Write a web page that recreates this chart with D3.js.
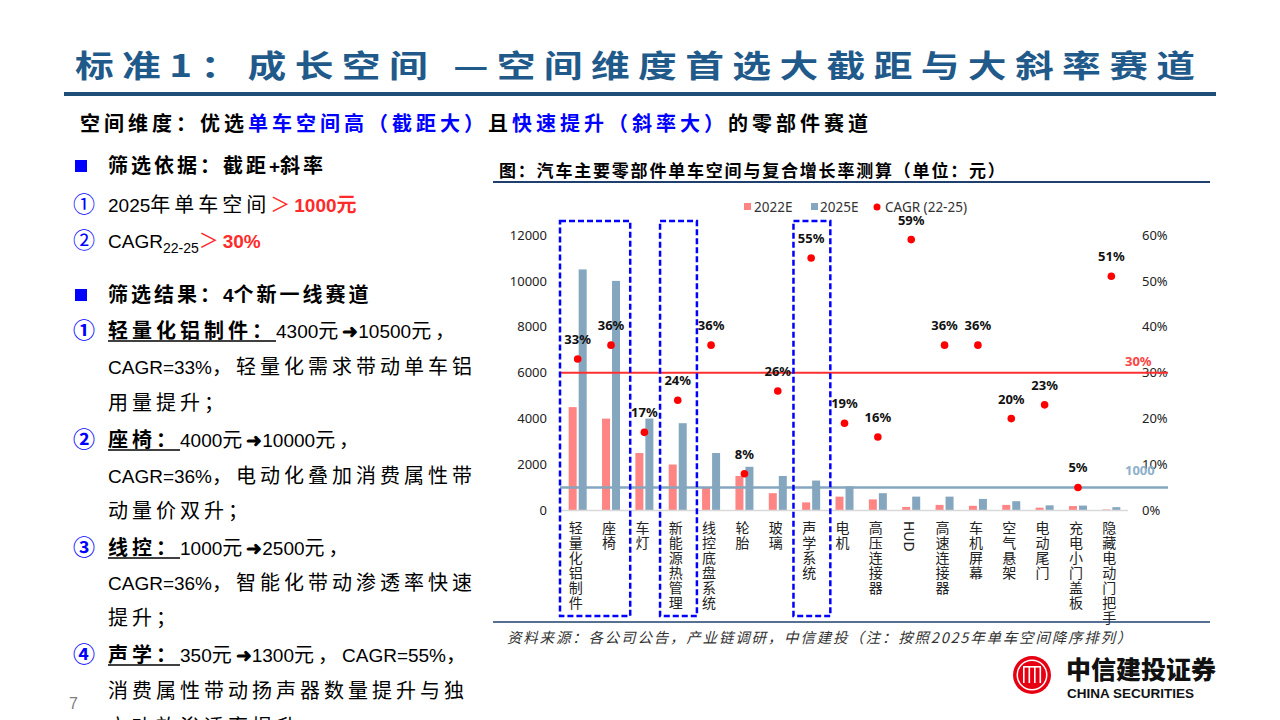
<!DOCTYPE html>
<html>
<head>
<meta charset="utf-8">
<script src="https://cdn.jsdelivr.net/npm/d3@7"></script>
<style>
  body { margin: 0; background: #fff; }
  svg { display: block; }
</style>
</head>
<body>
<div id="chart"></div>
<script>
// data
var categories = ['轻量化铝制件', '座椅', '车灯', '新能源热管理', '线控底盘系统', '轮胎', '玻璃', '声学系统', '电机',
  '高压连接器', 'HUD', '高速连接器', '车机屏幕', '空气悬架', '电动尾门', '充电小门盖板', '隐藏电动门把手'];
var space2022 = [4500, 4000, 2500, 2000, 1000, 1500, 750, 350, 600, 480, 150, 240, 200, 240, 120, 190, 40];
var space2025 = [10500, 10000, 4000, 3800, 2500, 1900, 1500, 1300, 1050, 750, 600, 600, 500, 400, 220, 210, 140];
var cagr = [0.33, 0.36, 0.17, 0.24, 0.36, 0.08, 0.26, 0.55, 0.19, 0.16, 0.59, 0.36, 0.36, 0.20, 0.23, 0.05, 0.51];
var seriesNames = ['2022E', '2025E'];
var leftTicks = [0, 2000, 4000, 6000, 8000, 10000, 12000];
var rightTicks = [0, 0.1, 0.2, 0.3, 0.4, 0.5, 0.6];
var highlightGroups = [['轻量化铝制件', '座椅'], ['新能源热管理'], ['声学系统']];
var spaceLine = 1000, cagrLine = 0.30;

var CJK = /[\u2460-\u24ff\u3000-\u9fff\uff00-\uffef]/;
var FONT = '"Liberation Sans", "Noto Sans CJK SC", sans-serif';
var CHARTFONT = '"Noto Sans", "Noto Sans CJK SC", sans-serif';

var svg = d3.select('#chart').append('svg')
    .attr('width', 1280)
    .attr('height', 720);

svg.append('rect').attr('width', 1280).attr('height', 720).attr('fill', '#fff');

// ---------- page title ----------
svg.append('text')
    .attr('transform', 'translate(75,77) scale(1.25,1)')
    .attr('font-family', '"Noto Sans CJK SC", sans-serif')
    .attr('font-weight', 700)
    .attr('font-size', 31)
    .attr('letter-spacing', 6.7)
    .attr('fill', '#1F5A8A')
    .text('标准1：成长空间 —空间维度首选大截距与大斜率赛道');

svg.append('line')
    .attr('x1', 64).attr('x2', 1216).attr('y1', 94).attr('y2', 94)
    .attr('stroke', '#1F4E79').attr('stroke-width', 4);

// rich text line made of segments, CJK runs get extra letter spacing
function rich(x, y, segs, base) {
  base = base || {};
  var size = base.size || 20, ls = base.ls == null ? 4 : base.ls;
  var latin = base.latin || 19;
  var t = svg.append('text')
      .attr('x', x).attr('y', y)
      .attr('font-family', base.family || FONT)
      .attr('font-size', size)
      .attr('fill', '#000');
  var shift = 0;
  segs.forEach(function(s) {
    var runs = s.t.match(/([\u2460-\u24ff\u3000-\u9fff\uff00-\uffef]+|[^\u2460-\u24ff\u3000-\u9fff\uff00-\uffef]+)/g);
    var nodes = [];
    runs.forEach(function(r, i) {
      var isC = CJK.test(r);
      var ts = t.append('tspan')
          .attr('fill', s.color || '#000')
          .attr('font-weight', s.bold ? 700 : 400)
          .attr('font-size', s.size || (isC ? size : latin))
          .attr('letter-spacing', isC ? ls : 0)
          .text(r);
      var want = s.sub || 0;
      if (i === 0 && want !== shift) { ts.attr('dy', want - shift); shift = want; }
      nodes.push(ts.node());
    });
    s._nodes = nodes;
  });
  segs.forEach(function(s) {
    if (!s.underline) return;
    var a = s._nodes[0], b = s._nodes[s._nodes.length - 1];
    var x1 = a.getStartPositionOfChar(0).x;
    var x2 = b.getEndPositionOfChar(b.getNumberOfChars() - 1).x;
    svg.append('line').attr('x1', x1).attr('x2', x2)
        .attr('y1', y + 3).attr('y2', y + 3)
        .attr('stroke', '#000').attr('stroke-width', 1.5);
  });
  return t;
}

// subtitle
rich(80, 131, [
  { t: '空间维度：优选', bold: true },
  { t: '单车空间高（截距大）', bold: true, color: '#0000FF' },
  { t: '且', bold: true },
  { t: '快速提升（斜率大）', bold: true, color: '#0000FF' },
  { t: '的零部件赛道', bold: true }
], { size: 20, ls: 4 });

// ---------- left panel ----------
function bullet(y) {
  svg.append('rect').attr('x', 75).attr('y', y - 6).attr('width', 12).attr('height', 12).attr('fill', '#0000FF');
}
function num(y, ch, bold) {
  svg.append('text').attr('x', 84).attr('y', y + 7)
      .attr('text-anchor', 'middle')
      .attr('font-family', '"Noto Sans CJK SC", sans-serif')
      .attr('font-size', 22).attr('font-weight', bold ? 700 : 400)
      .attr('fill', '#0000FF').text(ch);
}
var RED = '#FF2A2A';

bullet(166);
rich(108, 173, [{ t: '筛选依据：截距+斜率', bold: true }], { ls: 3 });
num(205, '①');
rich(108, 212, [{ t: '2025年单车空间' }, { t: '＞', color: RED }, { t: '1000元', color: RED, bold: true }]);
num(241, '②');
rich(108, 248, [{ t: 'CAGR' }, { t: '22-25', size: 14, sub: 5 }, { t: '＞', color: RED }, { t: '30%', color: RED, bold: true }]);

bullet(295);
rich(108, 302, [{ t: '筛选结果：4个新一线赛道', bold: true }], { ls: 3 });

var body = [
  [331, '①', [{ t: '轻量化铝制件：', bold: true, underline: true }, { t: '4300元' }, { t: '➜', bold: true }, { t: '10500元，' }]],
  [367, null, [{ t: 'CAGR=33%，轻量化需求带动单车铝' }]],
  [403, null, [{ t: '用量提升；' }]],
  [440, '②', [{ t: '座椅：', bold: true, underline: true }, { t: '4000元' }, { t: '➜', bold: true }, { t: '10000元，' }]],
  [476, null, [{ t: 'CAGR=36%，电动化叠加消费属性带' }]],
  [511, null, [{ t: '动量价双升；' }]],
  [548, '③', [{ t: '线控：', bold: true, underline: true }, { t: '1000元' }, { t: '➜', bold: true }, { t: '2500元，' }]],
  [583, null, [{ t: 'CAGR=36%，智能化带动渗透率快速' }]],
  [618, null, [{ t: '提升；' }]],
  [655, '④', [{ t: '声学：', bold: true, underline: true }, { t: '350元' }, { t: '➜', bold: true }, { t: '1300元，CAGR=55%，' }]],
  [691, null, [{ t: '消费属性带动扬声器数量提升与独' }]],
  [727, null, [{ t: '立功放渗透率提升；' }]]
];
body.forEach(function(b) {
  if (b[1]) num(b[0], b[1], true);
  rich(108, b[0] + 7, b[2]);
});

svg.append('text').attr('x', 69).attr('y', 709)
    .attr('font-family', FONT).attr('font-size', 16).attr('fill', '#808080').text('7');

// ---------- chart header ----------
svg.append('text')
    .attr('x', 499).attr('y', 177)
    .attr('font-family', '"Noto Sans CJK SC", sans-serif')
    .attr('font-weight', 700).attr('font-size', 17).attr('letter-spacing', 1.8)
    .text('图：汽车主要零部件单车空间与复合增长率测算（单位：元）');
svg.append('line').attr('x1', 493).attr('x2', 1210).attr('y1', 182).attr('y2', 182)
    .attr('stroke', '#1F3F6E').attr('stroke-width', 2);

// ---------- scales ----------
var x = d3.scaleBand().domain(categories).range([561, 1128]);
var xs = d3.scaleBand().domain(seriesNames).range([-9, 9]).paddingInner(0.2);
var y = d3.scaleLinear().domain([0, 12000]).range([510.4, 235]);
var y2 = d3.scaleLinear().domain([0, 0.6]).range([510.4, 235]);
var color = d3.scaleOrdinal().domain(seriesNames).range(['#FF8585', '#85A6BF']);
function cx(c) { return x(c) + x.bandwidth() / 2; }

var rows = categories.map(function(c, i) {
  return { cat: c, vals: [space2022[i], space2025[i]], cagr: cagr[i] };
});

// axes
var gl = svg.append('g').attr('transform', 'translate(553,0)')
    .call(d3.axisLeft(y).tickValues(leftTicks).tickFormat(d3.format('d')).tickSize(0).tickPadding(6));
gl.select('.domain').remove();
gl.selectAll('text').attr('font-family', CHARTFONT).attr('font-size', 13).attr('fill', '#222');

var gr = svg.append('g').attr('transform', 'translate(1136,0)')
    .call(d3.axisRight(y2).tickValues(rightTicks).tickFormat(d3.format('.0%')).tickSize(0).tickPadding(6));
gr.select('.domain').remove();
gr.selectAll('text').attr('font-family', CHARTFONT).attr('font-size', 13).attr('fill', '#222');

// bars
var grp = svg.append('g').selectAll('g').data(rows).enter().append('g')
    .attr('transform', function(d) { return 'translate(' + cx(d.cat) + ',0)'; });
grp.selectAll('rect').data(function(d) {
  return seriesNames.map(function(s, i) { return { s: s, v: d.vals[i] }; });
}).enter().append('rect')
    .attr('x', function(d) { return xs(d.s); })
    .attr('width', xs.bandwidth())
    .attr('y', function(d) { return y(d.v); })
    .attr('height', function(d) { return y(0) - y(d.v); })
    .attr('fill', function(d) { return color(d.s); });

svg.append('line').attr('x1', 561).attr('x2', 1128).attr('y1', y(0)).attr('y2', y(0))
    .attr('stroke', '#D9D9D9').attr('stroke-width', 1.5);

// threshold lines
svg.append('line').attr('x1', 560).attr('x2', 1168).attr('y1', y(spaceLine)).attr('y2', y(spaceLine))
    .attr('stroke', '#85A6BF').attr('stroke-width', 2.5);
svg.append('line').attr('x1', 560).attr('x2', 1168).attr('y1', y2(cagrLine)).attr('y2', y2(cagrLine))
    .attr('stroke', '#FF3030').attr('stroke-width', 2);
svg.append('text').attr('x', 1125).attr('y', y(spaceLine) - 12)
    .attr('font-family', CHARTFONT).attr('font-size', 13).attr('font-weight', 700)
    .attr('fill', '#8DB0CA').text(spaceLine);
svg.append('text').attr('x', 1125).attr('y', y2(cagrLine) - 7)
    .attr('font-family', CHARTFONT).attr('font-size', 13).attr('font-weight', 700)
    .attr('fill', '#FF4545').text(d3.format('.0%')(cagrLine));

// CAGR dots + labels
svg.append('g').selectAll('circle').data(rows).enter().append('circle')
    .attr('cx', function(d) { return cx(d.cat); })
    .attr('cy', function(d) { return y2(d.cagr); })
    .attr('r', 3.8).attr('fill', '#FF0000');
svg.append('g').selectAll('text').data(rows).enter().append('text')
    .attr('x', function(d) { return cx(d.cat); })
    .attr('y', function(d) { return y2(d.cagr) - 15; })
    .attr('text-anchor', 'middle')
    .attr('font-family', CHARTFONT).attr('font-size', 13).attr('font-weight', 700)
    .attr('fill', '#111')
    .text(function(d) { return d3.format('.0%')(d.cagr); });

// category labels, stacked vertically
rows.forEach(function(d) {
  var px = cx(d.cat) - 2;
  if (!CJK.test(d.cat)) {
    svg.append('text')
        .attr('transform', 'translate(' + (px - 5) + ',521) rotate(90)')
        .attr('font-family', CHARTFONT).attr('font-size', 14).attr('fill', '#222')
        .text(d.cat);
    return;
  }
  var t = svg.append('text').attr('font-family', '"Noto Sans CJK SC", sans-serif')
      .attr('font-size', 14).attr('fill', '#222').attr('text-anchor', 'middle');
  d.cat.split('').forEach(function(ch, i) {
    t.append('tspan').attr('x', px).attr('y', 533 + i * 15).text(ch);
  });
});

// dashed highlight boxes
highlightGroups.forEach(function(g) {
  var x1 = x(g[0]) - 1, x2 = x(g[g.length - 1]) + x.bandwidth() + 2.5;
  svg.append('rect').attr('x', x1).attr('y', 221).attr('width', x2 - x1).attr('height', 395)
      .attr('fill', 'none').attr('stroke', '#0000FF').attr('stroke-width', 2.5)
      .attr('stroke-dasharray', '6,3');
});

// legend
var lg = svg.append('g').attr('font-family', CHARTFONT).attr('font-size', 13.5).attr('fill', '#333');
lg.append('rect').attr('x', 744).attr('y', 203).attr('width', 7).attr('height', 7).attr('fill', color('2022E'));
lg.append('text').attr('x', 754).attr('y', 212).text('2022E');
lg.append('rect').attr('x', 811).attr('y', 203).attr('width', 7).attr('height', 7).attr('fill', color('2025E'));
lg.append('text').attr('x', 820).attr('y', 212).text('2025E');
lg.append('circle').attr('cx', 877).attr('cy', 207).attr('r', 3.5).attr('fill', '#FF0000');
lg.append('text').attr('x', 885).attr('y', 212).text('CAGR (22-25)');

// source
svg.append('line').attr('x1', 493).attr('x2', 1210).attr('y1', 622).attr('y2', 622)
    .attr('stroke', '#1F3F6E').attr('stroke-width', 1.5);
svg.append('text').attr('x', 507).attr('y', 643)
    .attr('font-family', '"Noto Sans CJK SC", serif').attr('font-size', 14.5)
    .attr('letter-spacing', 1.8)
    .attr('font-style', 'italic').attr('fill', '#333')
    .text('资料来源：各公司公告，产业链调研，中信建投（注：按照2025年单车空间降序排列）');

// logo
var logo = svg.append('g').attr('transform', 'translate(1032,675)');
logo.append('circle').attr('r', 19).attr('fill', '#E60012');
logo.append('circle').attr('r', 15.5).attr('fill', '#fff');
logo.append('circle').attr('r', 14).attr('fill', '#E60012');
[-9, -3.5, 2, 7.5].forEach(function(dx) {
  logo.append('rect').attr('x', dx).attr('y', -8).attr('width', 1.6).attr('height', 16).attr('fill', '#fff');
});
logo.append('rect').attr('x', -9).attr('y', -9).attr('width', 18).attr('height', 1.6).attr('fill', '#fff');
svg.append('text').attr('x', 1066).attr('y', 679)
    .attr('font-family', '"Noto Sans CJK SC", sans-serif').attr('font-weight', 900)
    .attr('font-size', 25).attr('fill', '#111').text('中信建投证券');
svg.append('text').attr('x', 1067).attr('y', 698)
    .attr('font-family', '"Liberation Sans", Arial, sans-serif').attr('font-weight', 700)
    .attr('font-size', 13.5).attr('fill', '#111').text('CHINA SECURITIES');
</script>
</body>
</html>
